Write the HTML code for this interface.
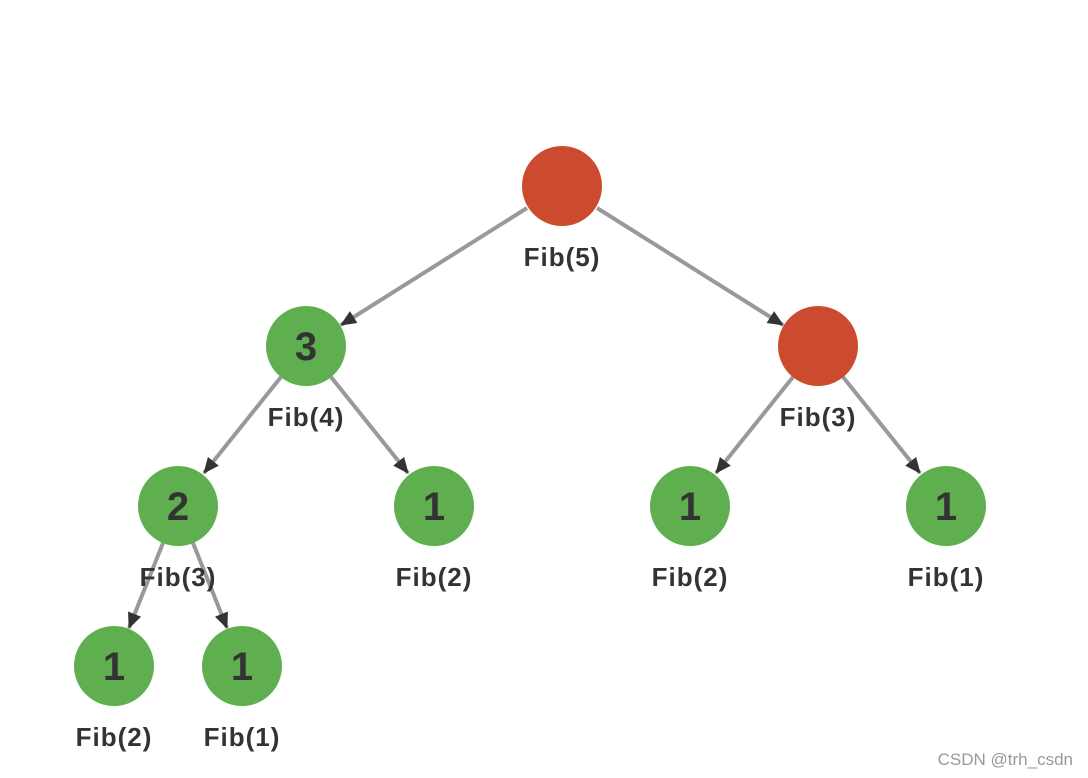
<!DOCTYPE html>
<html><head><meta charset="utf-8"><style>body{margin:0;background:#fff}svg{display:block}</style></head><body>
<svg width="1088" height="778" viewBox="0 0 1088 778" xmlns="http://www.w3.org/2000/svg">
<defs>
<marker id="b" markerWidth="16" markerHeight="14" refX="15" refY="7" orient="auto" markerUnits="userSpaceOnUse"><path d="M0,0 L16,7 L0,14z" fill="#333"/></marker></defs>
<g stroke="#999" stroke-width="4" fill="none" marker-end="url(#b)">
<line x1="527" y1="208" x2="341" y2="325"/>
<line x1="597" y1="208" x2="783" y2="325"/>
<line x1="281" y1="377" x2="204" y2="473"/>
<line x1="331" y1="377" x2="408" y2="473"/>
<line x1="793" y1="377" x2="716" y2="473"/>
<line x1="843" y1="377" x2="920" y2="473"/>
<line x1="163" y1="543" x2="129" y2="628"/>
<line x1="193" y1="543" x2="227" y2="628"/>
</g>
<g fill="#5fae50">
<circle cx="306" cy="346" r="40"/><circle cx="178" cy="506" r="40"/><circle cx="434" cy="506" r="40"/><circle cx="690" cy="506" r="40"/><circle cx="946" cy="506" r="40"/><circle cx="114" cy="666" r="40"/><circle cx="242" cy="666" r="40"/>
</g>
<circle cx="562" cy="186" r="40" fill="#cc4a2e"/><circle cx="818" cy="346" r="40" fill="#cc4a2e"/>
<g font-family="Liberation Sans, sans-serif" font-weight="bold" fill="#333" text-anchor="middle">
<g font-size="40">
<text x="306" y="360">3</text><text x="178" y="520">2</text><text x="434" y="520">1</text><text x="690" y="520">1</text><text x="946" y="520">1</text><text x="114" y="680">1</text><text x="242" y="680">1</text>
</g>
<g font-size="26" letter-spacing="1">
<text x="562" y="266">Fib(5)</text><text x="306" y="426">Fib(4)</text><text x="818" y="426">Fib(3)</text>
<text x="178" y="586">Fib(3)</text><text x="434" y="586">Fib(2)</text><text x="690" y="586">Fib(2)</text><text x="946" y="586">Fib(1)</text>
<text x="114" y="746">Fib(2)</text><text x="242" y="746">Fib(1)</text>
</g>
</g>
<text x="1073" y="765" text-anchor="end" font-family="Liberation Sans, sans-serif" font-size="17" fill="#999">CSDN @trh_csdn</text>
</svg>
</body></html>
